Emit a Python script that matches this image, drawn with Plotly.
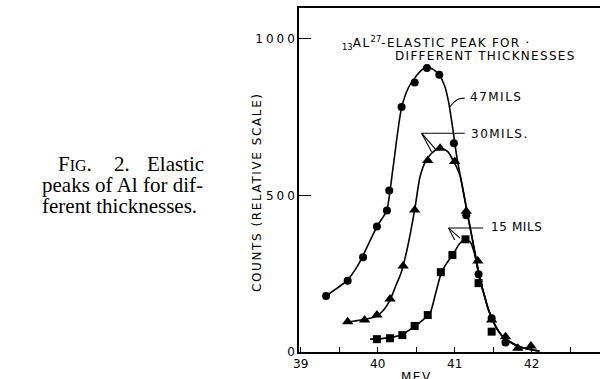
import plotly.graph_objects as go

# ---- data ----
circ_x = [39.33, 39.61, 39.81, 39.99, 40.12, 40.15, 40.31, 40.48, 40.64, 40.80, 40.99, 41.15, 41.31, 41.48, 41.66]
circ_y = [179, 228, 303, 401, 452, 516, 783, 861, 907, 886, 667, 437, 248, 108, 30]
tri_x = [39.61, 39.83, 39.99, 40.16, 40.33, 40.48, 40.65, 40.81, 41.00, 41.15, 41.30, 41.48, 41.66, 41.82, 41.99]
tri_y = [97, 102, 118, 169, 275, 454, 612, 651, 609, 450, 291, 102, 49, 12, 19]
sq_x = [39.99, 40.16, 40.32, 40.48, 40.65, 40.82, 40.97, 41.14, 41.31, 41.48]
sq_y = [41, 44, 54, 83, 118, 255, 310, 360, 220, 65]

# hand-drawn smooth curves
tail_x = [41.10, 41.17, 41.23, 41.28, 41.33, 41.38, 41.44, 41.50, 41.56, 41.63, 41.72, 41.85, 41.98, 42.10]
tail_y = [528, 436, 360, 295, 232, 185, 134, 98, 70, 48, 32, 16, 8, 3]
c47_x = [39.33, 39.45, 39.60, 39.75, 39.90, 40.00, 40.08, 40.12, 40.20, 40.31, 40.40, 40.48, 40.56, 40.64,
         40.72, 40.80, 40.87, 40.92, 40.98, 41.03] + tail_x
c47_y = [179, 200, 228, 280, 355, 405, 435, 455, 590, 780, 845, 875, 898, 910,
         903, 885, 850, 800, 705, 620] + tail_y
c30_x = [39.61, 39.75, 39.90, 39.99, 40.08, 40.16, 40.24, 40.30, 40.38, 40.48, 40.55, 40.62, 40.70,
         40.77, 40.84, 40.91, 40.98, 41.03, 41.07] + tail_x
c30_y = [95, 101, 108, 115, 135, 166, 215, 250, 326, 454, 560, 608, 635,
         648, 650, 640, 612, 588, 562] + tail_y
c15_x = [39.90, 40.00, 40.16, 40.32, 40.48, 40.60, 40.68, 40.75, 40.83, 40.90, 40.98, 41.06, 41.13,
         41.20, 41.25, 41.30, 41.33] + tail_x[5:]
c15_y = [41, 42, 46, 56, 82, 105, 125, 185, 255, 285, 312, 345, 360,
         352, 320, 262, 225] + tail_y[5:]

x_tickvals = [39, 40, 41, 42]
x_ticktext = ["39", "40", "41", "42"]
x_minorvals = [39.5, 40.5, 41.5, 42.5]
y_tickvals = [0, 500, 1000]
y_ticktext = ["0", "5\u20050\u20050", "1\u20050\u20050\u20050"]

X0, X1 = 38.978, 42.887
Y0, Y1 = 0, 1099
L, T, B = 299, 8, 27
W, H = 600, 379
PW, PH = W - L, H - T - B

def px(xp):
    return (xp - L) / PW

def py(yp):
    return (H - B - yp) / PH

def spaced(s, ls):
    return "<span style='letter-spacing:%spx'>%s</span>" % (ls, s)

fig = go.Figure()
for cx, cy in [(c47_x, c47_y), (c30_x, c30_y), (c15_x, c15_y)]:
    fig.add_trace(go.Scatter(x=cx, y=cy, mode="lines",
                             line=dict(color="black", width=1.6, shape="spline", smoothing=0.8),
                             hoverinfo="skip", showlegend=False))
fig.add_trace(go.Scatter(x=circ_x, y=circ_y, mode="markers", marker=dict(symbol="circle", size=8, color="black"), showlegend=False))
fig.add_trace(go.Scatter(x=tri_x, y=tri_y, mode="markers", marker=dict(symbol="triangle-up", size=10, color="black"), showlegend=False))
fig.add_trace(go.Scatter(x=sq_x, y=sq_y, mode="markers", marker=dict(symbol="square", size=8, color="black"), showlegend=False))

LFONT = dict(family="DejaVu Sans", size=12, color="black")

# leader lines for labels (data coordinates)
leaders = [
    [(40.94, 784), (41.0, 800), (41.05, 808), (41.13, 811)],
    [(40.57, 699), (41.13, 699)],
    [(40.57, 699), (40.70, 640)],
    [(40.57, 699), (40.76, 645)],
    [(40.92, 396), (41.37, 396)],
    [(40.92, 396), (41.0, 358)],
    [(40.92, 396), (41.07, 364)],
]
for pts in leaders:
    fig.add_trace(go.Scatter(x=[p[0] for p in pts], y=[p[1] for p in pts], mode="lines",
                             line=dict(color="black", width=1.1, shape="spline"), hoverinfo="skip", showlegend=False))

ann = []
ann.append(dict(x=41.17, y=815, xref="x", yref="y", text=spaced("47MILS", 1.5), showarrow=False, xanchor="left", yanchor="middle", font=LFONT))
ann.append(dict(x=41.19, y=697, xref="x", yref="y", text=spaced("30MILS.", 1.5), showarrow=False, xanchor="left", yanchor="middle", font=LFONT))
ann.append(dict(x=41.44, y=400, xref="x", yref="y", text=spaced("15 MILS", 0.6), showarrow=False, xanchor="left", yanchor="middle", font=LFONT))
ann.append(dict(x=px(340), y=py(43), xref="paper", yref="paper",
                text="<sub>13</sub>" + spaced("AL", 1.5) + "<sup>27</sup>" + spaced("-ELASTIC PEAK FOR \u00b7", 1.3),
                showarrow=False, xanchor="left", yanchor="middle", font=LFONT))
ann.append(dict(x=px(393), y=py(56), xref="paper", yref="paper",
                text=spaced("DIFFERENT THICKNESSES", 1.3), showarrow=False, xanchor="left", yanchor="middle", font=LFONT))
ann.append(dict(x=px(257), y=py(192), xref="paper", yref="paper", text=spaced("COUNTS (RELATIVE SCALE)", 1.6), textangle=-90,
                showarrow=False, xanchor="center", yanchor="middle", font=dict(family="DejaVu Sans", size=12, color="black")))
ann.append(dict(x=px(416), y=py(377), xref="paper", yref="paper", text=spaced("MEV", 1.5), showarrow=False,
                xanchor="center", yanchor="middle", font=LFONT))
# caption
CF = dict(family="Liberation Serif", size=21, color="black")
ann.append(dict(x=px(56), y=py(164), xref="paper", yref="paper", text="F<span style='font-size:16px'>IG</span>.",
                showarrow=False, xanchor="left", yanchor="middle", font=CF))
ann.append(dict(x=px(112), y=py(164), xref="paper", yref="paper", text="2.",
                showarrow=False, xanchor="left", yanchor="middle", font=CF))
ann.append(dict(x=px(206), y=py(164), xref="paper", yref="paper", text="Elastic",
                showarrow=False, xanchor="right", yanchor="middle", font=CF))
ann.append(dict(x=px(40), y=py(185), xref="paper", yref="paper", text="peaks of Al for dif-",
                showarrow=False, xanchor="left", yanchor="middle", font=CF))
ann.append(dict(x=px(40), y=py(206), xref="paper", yref="paper", text="ferent thicknesses.",
                showarrow=False, xanchor="left", yanchor="middle", font=CF))

fig.update_layout(
    width=W, height=H, margin=dict(l=L, r=0, t=T, b=B, pad=0),
    paper_bgcolor="white", plot_bgcolor="white",
    annotations=ann,
    xaxis=dict(range=[X0, X1], showline=True, mirror=True, linecolor="black", linewidth=1.5,
               showgrid=False, zeroline=False, ticks="inside", ticklen=5, tickcolor="black", tickwidth=1.2,
               tickvals=x_tickvals, ticktext=x_ticktext, tickfont=LFONT,
               minor=dict(tickvals=x_minorvals, ticks="inside", ticklen=5, tickcolor="black", tickwidth=1.2, showgrid=False)),
    yaxis=dict(range=[Y0, Y1], showline=True, mirror=False, linecolor="black", linewidth=1.5,
               showgrid=False, zeroline=False, ticks="inside", ticklen=12, tickcolor="black", tickwidth=1.2,
               tickvals=y_tickvals, ticktext=y_ticktext, tickfont=LFONT),
)
fig.write_html("out.html")
